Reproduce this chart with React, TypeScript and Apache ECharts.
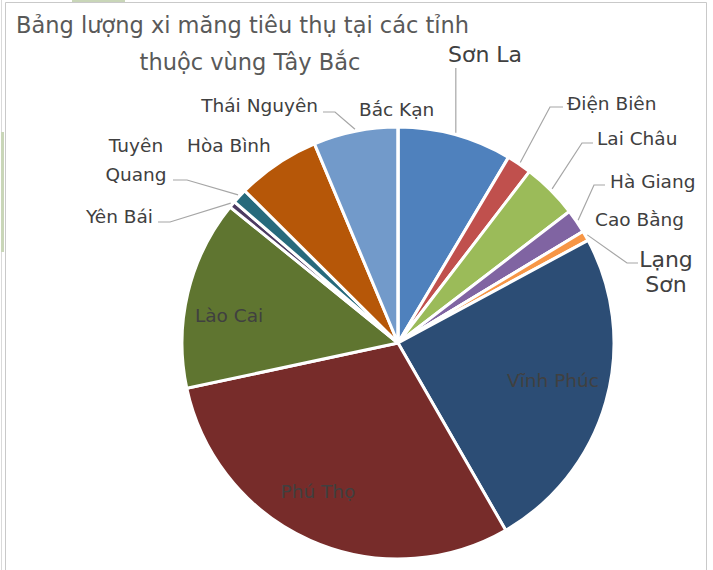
import React, { useEffect, useRef } from "react";
import * as echarts from "echarts";

// ---------- data ----------
const TITLE_LINES = ["Bảng lượng xi măng tiêu thụ tại các tỉnh", "thuộc vùng Tây Bắc"];

const provinces = [
  "Sơn La", "Điện Biên", "Lai Châu", "Hà Giang", "Cao Bằng", "Lạng Sơn", "Vĩnh Phúc",
  "Phú Thọ", "Lào Cai", "Yên Bái", "Tuyên Quang", "Hòa Bình", "Thái Nguyên", "Bắc Kạn",
];
const consumption = [30.7, 6.7, 15.0, 6.4, 0, 2.7, 88.3, 107.6, 51.0, 1.8, 4.0, 22.4, 22.7, 0];
const sliceColors = [
  "#4F81BD", "#C0504D", "#9BBB59", "#8064A2", "#4BACC6", "#F79646", "#2C4D75",
  "#772C2A", "#5F7530", "#4D3B62", "#276A7C", "#B65708", "#729ACA", "#CD7371",
];

// ---------- layout ----------
const FONT = "DejaVu Sans";
const CX = 398;
const CY = 343;
const R = 216;

type Placement = {
  x: number;
  y: number;
  align: "left" | "center" | "right";
  size?: number;
  inside?: boolean;
  wrap?: number;
  vertical?: number;
  guide?: number[][];
};

const labelPlacement: Record<string, Placement> = {
  "Sơn La": { x: 485, y: 54, align: "center", size: 22, vertical: 68 },
  "Điện Biên": { x: 567, y: 103, align: "left", guide: [[550, 107], [563, 107]] },
  "Lai Châu": { x: 597, y: 138, align: "left", guide: [[582, 143], [593, 143]] },
  "Hà Giang": { x: 610, y: 181, align: "left", guide: [[594, 185], [605, 185]] },
  "Cao Bằng": { x: 595, y: 219, align: "left" },
  "Lạng Sơn": { x: 666, y: 272, align: "center", size: 22, wrap: 25, guide: [[627, 263], [638, 263]] },
  "Vĩnh Phúc": { x: 553, y: 380, align: "center", inside: true },
  "Phú Thọ": { x: 318, y: 491, align: "center", inside: true },
  "Lào Cai": { x: 229, y: 315, align: "center", inside: true },
  "Yên Bái": { x: 153, y: 216, align: "right", guide: [[170, 222], [158, 222]] },
  "Tuyên Quang": { x: 136, y: 160, align: "center", wrap: 29, guide: [[187, 180], [173, 180]] },
  "Hòa Bình": { x: 187, y: 145, align: "left" },
  "Thái Nguyên": { x: 318, y: 105, align: "right", guide: [[335, 112], [323, 112]] },
  "Bắc Kạn": { x: 359, y: 109, align: "left" },
};

const total = consumption.reduce((a, b) => a + b, 0);

function edgePoint(index: number): number[] {
  let before = 0;
  for (let i = 0; i < index; i++) before += consumption[i];
  const mid = (before + consumption[index] / 2) / total;
  const theta = mid * Math.PI * 2;
  return [CX + (R + 2) * Math.sin(theta), CY - (R + 2) * Math.cos(theta)];
}

export default function App() {
  const ref = useRef<HTMLDivElement>(null);

  useEffect(() => {
    if (!ref.current) return;
    const chart = echarts.init(ref.current, undefined, { renderer: "svg" });

    const data = provinces.map((name, i) => {
      const p = labelPlacement[name];
      const size = p.size ?? 18.5;
      return {
        name,
        value: consumption[i],
        itemStyle: { color: sliceColors[i] },
        label: {
          show: true,
          position: p.inside ? "inside" : "outside",
          formatter: p.wrap ? name.replace(" ", "\n") : name,
          fontSize: size,
          lineHeight: p.wrap ? p.wrap : size * 1.2,
          fontFamily: FONT,
          color: "#404040",
        },
        labelLine: {
          show: !!(p.guide || p.vertical),
          lineStyle: { color: "#A6A6A6", width: 1.2 },
        },
      };
    });

    chart.setOption({
      animation: false,
      backgroundColor: "#FFFFFF",
      graphic: [
        { type: "rect", shape: { x: 5.5, y: 2.5, width: 701, height: 620 }, style: { fill: "none", stroke: "#C9C9C9", lineWidth: 1 }, silent: true },
        { type: "line", shape: { x1: 1.5, y1: 0, x2: 1.5, y2: 570 }, style: { stroke: "#DADADA", lineWidth: 1 }, silent: true },
        { type: "rect", shape: { x: 1, y: 132, width: 3, height: 120 }, style: { fill: "#C9D6B8" }, silent: true },
        { type: "rect", shape: { x: 72, y: 0, width: 53, height: 2 }, style: { fill: "#C9D6B8" }, silent: true },
        {
          type: "text", x: 16, y: 25,
          style: { text: TITLE_LINES[0], font: `22.5px "${FONT}"`, fill: "#595959", align: "left", verticalAlign: "middle", textAlign: "left", textVerticalAlign: "middle" },
        },
        {
          type: "text", x: 250, y: 62,
          style: { text: TITLE_LINES[1], font: `22.5px "${FONT}"`, fill: "#595959", align: "center", verticalAlign: "middle", textAlign: "center", textVerticalAlign: "middle" },
        },
      ],
      series: [
        {
          type: "pie",
          center: [CX, CY],
          radius: R,
          startAngle: 90,
          clockwise: true,
          avoidLabelOverlap: false,
          minShowLabelAngle: 0,
          itemStyle: { borderColor: "#FFFFFF", borderWidth: 3 },
          emphasis: { disabled: true },
          data,
          labelLayout: (params: any) => {
            const name = provinces[params.dataIndex];
            const p = labelPlacement[name];
            if (!p) return {};
            const out: any = { x: p.x, y: p.y, align: p.align, verticalAlign: "middle" };
            const s = edgePoint(params.dataIndex);
            if (p.vertical != null) {
              out.labelLinePoints = [s, [s[0], (s[1] + p.vertical) / 2], [s[0], p.vertical]];
            } else if (p.guide) {
              out.labelLinePoints = [s, ...p.guide];
            }
            return out;
          },
        },
      ],
    });

    return () => chart.dispose();
  }, []);

  return (
    <div
      ref={ref}
      style={{ position: "absolute", left: 0, top: 0, width: 713, height: 570 }}
    />
  );
}
